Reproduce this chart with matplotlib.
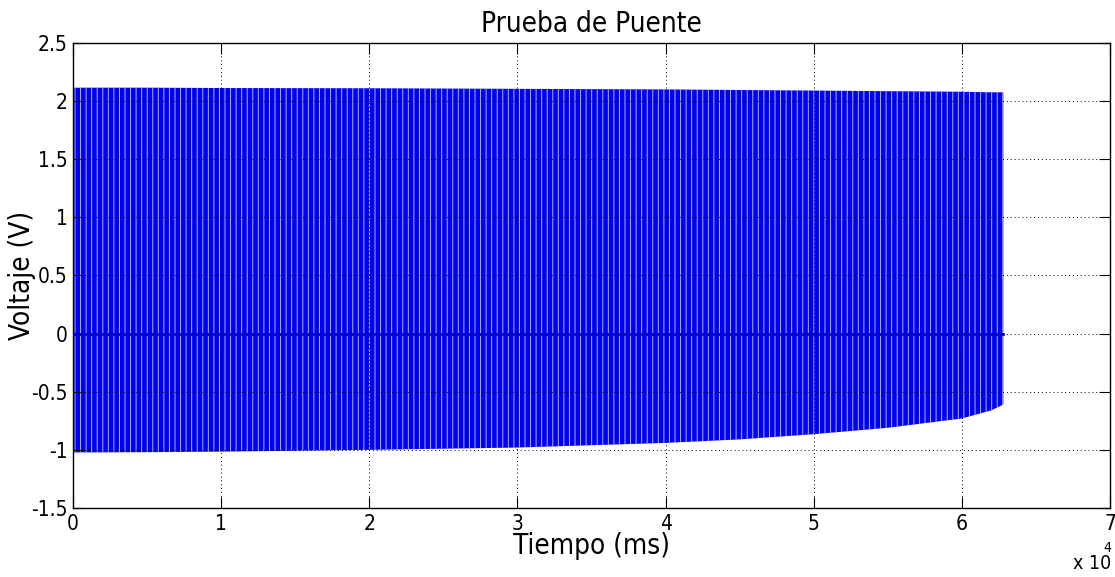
import numpy as np
import matplotlib
matplotlib.use("Agg")
import matplotlib.pyplot as plt

plt.rcParams['font.family'] = ['DejaVu Sans']
plt.rcParams['font.stretch'] = 'condensed'
plt.rcParams['hatch.linewidth'] = 0.7

# envolvente de la señal (tiempo en ms, voltaje en V)
env_t = [0, 5000, 10000, 20000, 30000, 40000, 45000, 50000, 55000, 60000, 62000, 62800]
env_hi = [2.115, 2.115, 2.112, 2.11, 2.105, 2.10, 2.095, 2.09, 2.085, 2.08, 2.075, 2.075]
env_lo = [-1.022, -1.02, -1.015, -1.0, -0.98, -0.94, -0.91, -0.865, -0.81, -0.73, -0.66, -0.61]

# nivel de reposo (0 V) durante toda la prueba
base_t = [0, 62800]
base_v = [0, 0]

xticks = [0, 10000, 20000, 30000, 40000, 50000, 60000, 70000]
xtick_labels = ['0', '1', '2', '3', '4', '5', '6', '7']
yticks = [-1.5, -1, -0.5, 0, 0.5, 1, 1.5, 2, 2.5]
ytick_labels = ['-1.5', '-1', '-0.5', '0', '0.5', '1', '1.5', '2', '2.5']

fig = plt.figure(figsize=(11.15, 5.77), dpi=100)
ax = fig.add_axes([0.0655, 0.1196, 0.930, 0.806])

# senal: bloque azul con franjas claras
ax.fill_between(env_t, env_lo, env_hi, facecolor='#0000f5', edgecolor='#b4b4f5',
                hatch='|||', linewidth=0, zorder=2)
ax.plot(base_t, base_v, color='#0000c8', linewidth=2, zorder=3)

ax.set_xlim(0, 70000)
ax.set_ylim(-1.5, 2.5)
ax.set_xticks(xticks)
ax.set_xticklabels(xtick_labels)
ax.set_yticks(yticks)
ax.set_yticklabels(ytick_labels)
ax.tick_params(direction='in', length=8, width=0.8, top=True, right=True,
               labelsize=15, pad=4)
ax.grid(True, color='black', linestyle=(0, (1, 3)), linewidth=0.7)
ax.set_axisbelow(False)
for s in ax.spines.values():
    s.set_linewidth(1.0)

ax.set_title('Prueba de Puente', fontsize=20, pad=8)
ax.set_xlabel('Tiempo (ms)', fontsize=20)
ax.xaxis.set_label_coords(0.5, -0.052)
ax.set_ylabel('Voltaje (V)', fontsize=20)
ax.yaxis.set_label_coords(-0.036, 0.5)

# factor de escala del eje x
fig.text(0.962, 0.007, 'x 10', fontsize=14, ha='left', va='bottom')
fig.text(0.990, 0.038, '4', fontsize=10, ha='left', va='bottom')

fig.savefig('out.png', dpi=100)
